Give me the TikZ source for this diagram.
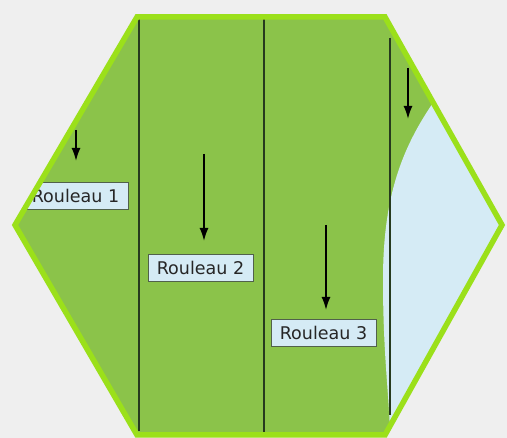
\documentclass[tikz,border=0pt]{standalone}
\usepackage{fontspec}
\newfontfamily\etiqfont{DejaVu Sans}
\usetikzlibrary{arrows.meta}
\definecolor{fond}{HTML}{EFEFEF}
\definecolor{vert}{HTML}{8BC34A}
\definecolor{bord}{HTML}{9BE01A}
\definecolor{eau}{HTML}{D5EBF5}
\definecolor{trait}{HTML}{263A1E}
\tikzset{
	fleche/.style={draw=black, line width=1.8pt, -{Latex[length=13pt,width=9pt]}},
	separ/.style={draw=trait, line width=1.6pt},
	etiquette/.style={draw=trait!80, fill=eau, line width=0.8pt, text=black!85,
		font=\etiqfont\fontsize{17.5}{19}\selectfont, minimum width=105pt,
		minimum height=27pt, inner sep=0pt}
}
\begin{document}
\begin{tikzpicture}[x=1pt,y=-1pt]
	  \fill[fond] (0,0) rectangle (507,438);
	  \useasboundingbox (0,0) rectangle (507,438);
	  \coordinate (H1) at (137,17);
	  \coordinate (H2) at (385,17);
	  \coordinate (H3) at (502,225);
	  \coordinate (H4) at (385,435);
	  \coordinate (H5) at (137,435);
	  \coordinate (H6) at (15,225);
	  \begin{scope}
	    \clip (H1) -- (H2) -- (H3) -- (H4) -- (H5) -- (H6) -- cycle;
	    \fill[vert] (0,0) rectangle (507,438);
	    % zone bleue a droite
	    \fill[eau] (435,100) .. controls (400,150) and (383,200) .. (383,280)
	      .. controls (383,360) and (390,400) .. (390,440) -- (520,440) -- (520,100) -- cycle;
	    \draw[separ] (139,17) -- (139,431);
	    \draw[separ] (264,17) -- (264,432);
	    \draw[separ] (390,38) -- (390,415);
	    \node[etiquette] (r1) at (75.5,195.5) {Rouleau 1};
	    \node[etiquette] (r2) at (200.5,267.5) {Rouleau 2};
	    \node[etiquette] (r3) at (323.5,333) {Rouleau 3};
	    \coordinate (d1) at (76,130);
	    \coordinate (f1) at (76,161);
	    \coordinate (d2) at (204,154);
	    \coordinate (f2) at (204,241);
	    \coordinate (d3) at (326,225);
	    \coordinate (f3) at (326,310);
	    \coordinate (d4) at (408,68);
	    \coordinate (f4) at (408,119);
	    \draw[fleche] (d1) -- (f1);
	    \draw[fleche] (d2) -- (f2);
	    \draw[fleche] (d3) -- (f3);
	    \draw[fleche] (d4) -- (f4);
	  \end{scope}
	  \draw[bord, line width=5.5pt, line join=miter] (H1) -- (H2) -- (H3) -- (H4) -- (H5) -- (H6) -- cycle;
	\end{tikzpicture}
\end{document}
